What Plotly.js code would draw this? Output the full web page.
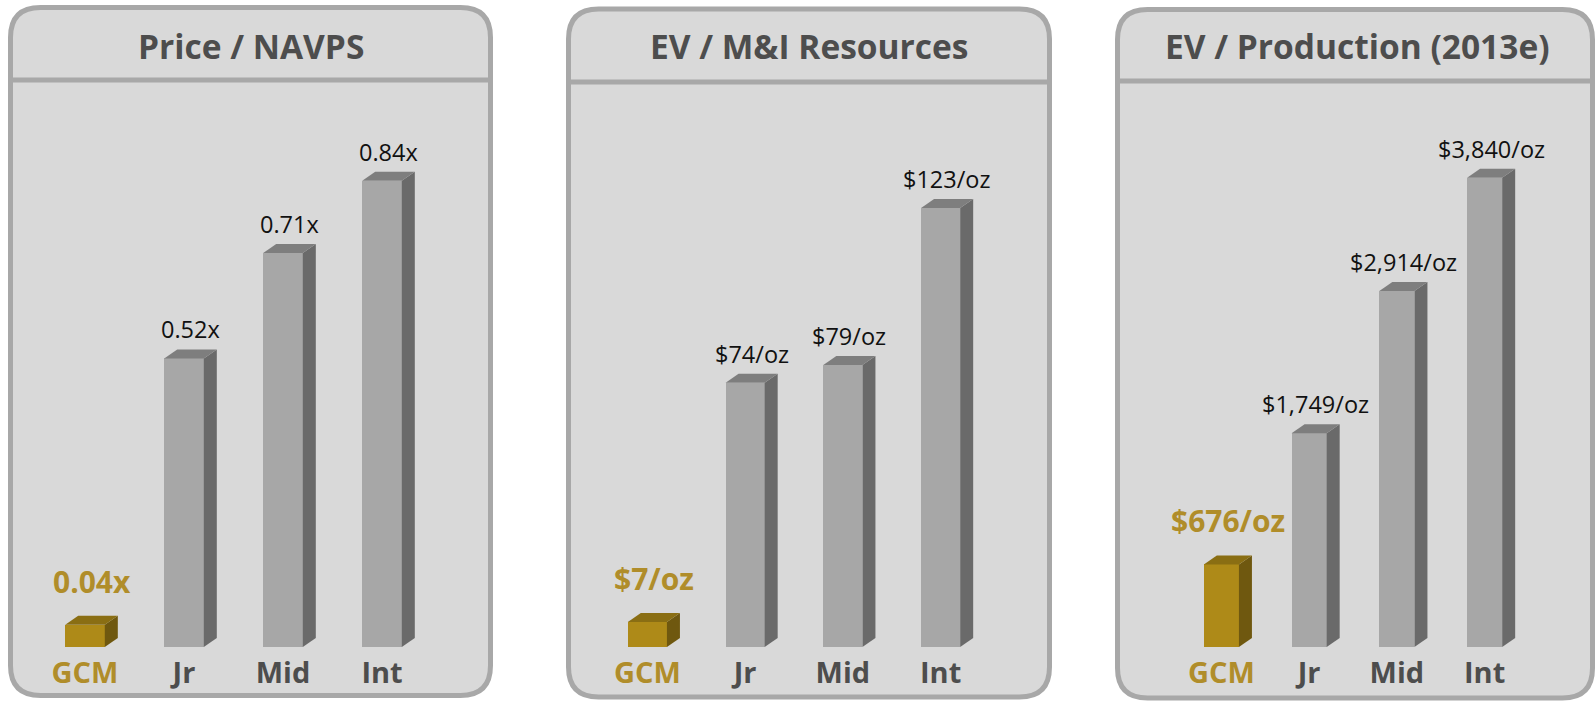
<!DOCTYPE html>
<html>
<head>
<meta charset="utf-8">
<script src="https://cdn.plot.ly/plotly-3.0.1.min.js"></script>
<style>
  html, body { margin: 0; padding: 0; background: #ffffff; }
  #chart { width: 1595px; height: 701px; }
</style>
</head>
<body>
<div id="chart"></div>
<script>
// ---------------- data ----------------
const categories = ['GCM', 'Jr', 'Mid', 'Int'];
const panelTitles = ['Price / NAVPS', 'EV / M&I Resources', 'EV / Production (2013e)'];

const navpsValues = [0.04, 0.52, 0.71, 0.84];
const navpsLabels = ['0.04x', '0.52x', '0.71x', '0.84x'];

const resourceValues = [7, 74, 79, 123];
const resourceLabels = ['$7/oz', '$74/oz', '$79/oz', '$123/oz'];

const productionValues = [676, 1749, 2914, 3840];
const productionLabels = ['$676/oz', '$1,749/oz', '$2,914/oz', '$3,840/oz'];

// ---------------- styling / layout constants ----------------
const W = 1595, H = 701;
const FONT = 'Open Sans, DejaVu Sans, sans-serif';
const GOLD = '#ae8a18', GOLD_SIDE = '#6f580f', GOLD_TOP = '#8a6e13';
const GREY = '#a7a7a7', GREY_SIDE = '#6a6a6a', GREY_TOP = '#7e7e7e';
const GOLD_TEXT = '#b08d2a';
const TITLE_COLOR = '#4d4d4d';

// panel boxes (pixel), header line y, bar area x extents, y ranges
const panels = [
  { box: [10.5, 7.5, 490.5, 695.5], header: 80, xpx: [35.5, 431.5], ymax: 540 / 555, values: navpsValues, labels: navpsLabels, titleX: 250.5 },
  { box: [568.5, 9, 1049.5, 697], header: 82, xpx: [598.5, 989.5], ymax: 540 / 3.57, values: resourceValues, labels: resourceLabels, titleX: 809 },
  { box: [1117.5, 9.5, 1592.5, 698], header: 81, xpx: [1177.5, 1528.5], ymax: 540 / 0.1222, values: productionValues, labels: productionLabels, titleX: 1357 }
];
const PLOT_TOP_PX = 107, PLOT_BOTTOM_PX = 647;
const BAR_W = 0.4;           // in category units
const DEPTH_X_PX = 13, DEPTH_Y_PX = 9;
const RADIUS = 30;

const px = v => v / W;
const py = v => 1 - v / H;

function roundedRectPath(l, t, r, b, rad) {
  return 'M ' + px(l + rad) + ',' + py(t) +
    ' L ' + px(r - rad) + ',' + py(t) +
    ' Q ' + px(r) + ',' + py(t) + ' ' + px(r) + ',' + py(t + rad) +
    ' L ' + px(r) + ',' + py(b - rad) +
    ' Q ' + px(r) + ',' + py(b) + ' ' + px(r - rad) + ',' + py(b) +
    ' L ' + px(l + rad) + ',' + py(b) +
    ' Q ' + px(l) + ',' + py(b) + ' ' + px(l) + ',' + py(b - rad) +
    ' L ' + px(l) + ',' + py(t + rad) +
    ' Q ' + px(l) + ',' + py(t) + ' ' + px(l + rad) + ',' + py(t) + ' Z';
}

const traces = [];
const shapes = [];
const annotations = [];
const layout = {
  width: W, height: H,
  margin: { l: 0, r: 0, t: 0, b: 0 },
  paper_bgcolor: '#ffffff',
  plot_bgcolor: 'rgba(0,0,0,0)',
  showlegend: false,
  bargap: 0,
  font: { family: FONT }
};

const yDomain = [py(PLOT_BOTTOM_PX), py(PLOT_TOP_PX)];
const idx = categories.map((c, i) => i);

panels.forEach((p, k) => {
  const n = k === 0 ? '' : String(k + 1);
  const xa = 'x' + n, ya = 'y' + n;
  const [l, t, r, b] = p.box;

  // panel background
  shapes.push({
    type: 'path', xref: 'paper', yref: 'paper', layer: 'below',
    path: roundedRectPath(l, t, r, b, RADIUS),
    fillcolor: '#d9d9d9', line: { color: '#a8a8a8', width: 5 }
  });
  // header separator
  shapes.push({
    type: 'line', xref: 'paper', yref: 'paper', layer: 'below',
    x0: px(l), x1: px(r), y0: py(p.header), y1: py(p.header),
    line: { color: '#a8a8a8', width: 5 }
  });
  // title
  annotations.push({
    xref: 'paper', yref: 'paper', x: px(p.titleX), y: py(46),
    xanchor: 'center', yanchor: 'middle', showarrow: false,
    text: panelTitles[k],
    font: { family: FONT, size: 33.5, weight: 'bold', color: TITLE_COLOR }
  });

  // axes
  const spacingPx = (p.xpx[1] - p.xpx[0]) / 4;
  const dx = DEPTH_X_PX / spacingPx;
  const dy = DEPTH_Y_PX * p.ymax / (PLOT_BOTTOM_PX - PLOT_TOP_PX);

  layout['xaxis' + n] = {
    domain: [px(p.xpx[0]), px(p.xpx[1])], range: [-0.5, 3.5],
    anchor: ya, showgrid: false, zeroline: false, showline: false,
    tickmode: 'array', tickvals: idx,
    ticktext: categories.map((c, i) => i === 0 ? '<span style="color:' + GOLD_TEXT + '">' + c + '</span>' : c),
    ticks: '', ticklabelstandoff: 6,
    tickfont: { family: FONT, size: 29, weight: 'bold', color: TITLE_COLOR },
    fixedrange: true
  };
  layout['yaxis' + n] = {
    domain: yDomain, range: [0, p.ymax], anchor: xa,
    visible: false, showgrid: false, zeroline: false, fixedrange: true
  };

  // front faces
  traces.push({
    type: 'bar', x: idx, y: p.values, width: BAR_W,
    xaxis: xa, yaxis: ya,
    marker: { color: idx.map(i => i === 0 ? GOLD : GREY), line: { width: 0 } },
    hoverinfo: 'skip'
  });

  // 3D side & top faces + value labels
  p.values.forEach((v, i) => {
    const xl = i - BAR_W / 2, xr = i + BAR_W / 2;
    const side = 'M ' + xr + ',0 L ' + (xr + dx) + ',' + dy + ' L ' + (xr + dx) + ',' + (v + dy) + ' L ' + xr + ',' + v + ' Z';
    const top = 'M ' + xl + ',' + v + ' L ' + (xl + dx) + ',' + (v + dy) + ' L ' + (xr + dx) + ',' + (v + dy) + ' L ' + xr + ',' + v + ' Z';
    shapes.push({ type: 'path', xref: xa, yref: ya, layer: 'above', path: side,
      fillcolor: i === 0 ? GOLD_SIDE : GREY_SIDE, line: { width: 0 } });
    shapes.push({ type: 'path', xref: xa, yref: ya, layer: 'above', path: top,
      fillcolor: i === 0 ? GOLD_TOP : GREY_TOP, line: { width: 0 } });

    const isGcm = i === 0;
    annotations.push({
      xref: xa, yref: ya, x: i + dx / 2, y: v + dy,
      xanchor: 'center', yanchor: 'bottom', showarrow: false,
      yshift: isGcm ? 12 : 2,
      text: p.labels[i],
      font: isGcm
        ? { family: FONT, size: 30, weight: 'bold', color: GOLD_TEXT }
        : { family: FONT, size: 23.5, color: '#111111' }
    });
  });
});

layout.shapes = shapes;
layout.annotations = annotations;

Plotly.newPlot('chart', traces, layout, { displayModeBar: false, staticPlot: true });
</script>
</body>
</html>
